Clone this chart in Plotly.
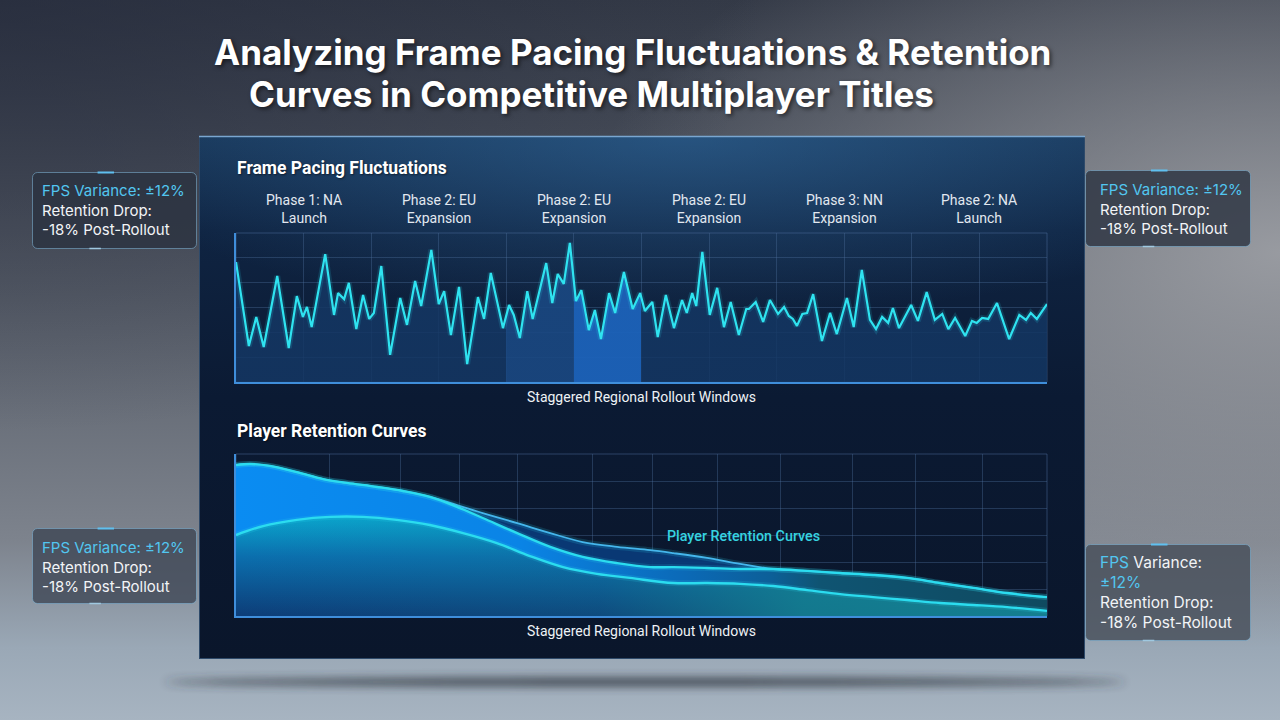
import base64
import plotly.graph_objects as go

W, H = 1280, 720

# ---------------- DATA ----------------
# Frame pacing (x = rollout window position 0..12, y = frame-time deviation units)
fps_x = [0.00, 0.19, 0.30, 0.41, 0.61, 0.78, 0.90, 0.99, 1.05, 1.12, 1.32, 1.45, 1.51, 1.60, 1.67, 1.78,
         1.88, 1.97, 2.04, 2.15, 2.28, 2.43, 2.53, 2.65, 2.74, 2.89, 3.00, 3.08, 3.18, 3.30, 3.42, 3.58,
         3.67, 3.77, 3.95, 4.04, 4.11, 4.20, 4.31, 4.39, 4.59, 4.68, 4.76, 4.85, 4.94, 5.03, 5.11, 5.22,
         5.31, 5.40, 5.52, 5.61, 5.74, 5.87, 5.98, 6.05, 6.16, 6.24, 6.36, 6.48, 6.60, 6.67, 6.75, 6.81,
         6.90, 7.01, 7.12, 7.22, 7.32, 7.44, 7.55, 7.59, 7.69, 7.80, 7.90, 8.02, 8.11, 8.18, 8.24, 8.30,
         8.38, 8.45, 8.54, 8.67, 8.79, 8.89, 9.04, 9.14, 9.26, 9.38, 9.47, 9.56, 9.65, 9.72, 9.81, 9.99,
         10.09, 10.22, 10.34, 10.45, 10.54, 10.64, 10.79, 10.89, 10.96, 11.04, 11.13, 11.26, 11.44, 11.59,
         11.69, 11.76, 11.85, 12.00]
fps_y = [48.3, 14.5, 26.2, 14.1, 42.7, 13.7, 34.6, 26.2, 30.2, 22.1, 51.5, 27.0, 35.8, 33.4, 39.9, 21.3,
         35.0, 25.4, 27.8, 46.7, 10.9, 33.8, 23.0, 40.7, 30.6, 53.2, 31.4, 36.6, 18.9, 38.3, 7.2, 34.2,
         25.4, 43.9, 21.7, 31.0, 27.0, 17.7, 36.6, 25.4, 47.9, 31.8, 43.5, 39.5, 56.0, 32.6, 37.0, 20.9,
         29.0, 17.3, 35.8, 27.8, 44.3, 29.4, 35.8, 28.6, 32.2, 18.1, 35.0, 21.7, 33.0, 27.8, 35.8, 30.6,
         52.4, 27.0, 37.9, 22.1, 32.2, 18.9, 29.4, 29.4, 32.2, 24.2, 33.0, 27.4, 30.2, 26.6, 25.4, 22.6,
         27.4, 27.8, 35.4, 16.5, 27.8, 19.3, 33.8, 22.1, 45.1, 25.0, 21.3, 26.2, 23.8, 29.8, 21.7, 31.0,
         24.6, 36.2, 25.0, 27.4, 21.3, 25.8, 18.5, 24.6, 23.8, 25.8, 25.4, 31.8, 17.3, 27.0,
         25.0, 27.8, 25.4, 31.4]

phase_x = [1, 3, 5, 7, 9, 11]
phase_labels = ["Phase 1: NA<br>Launch", "Phase 2: EU<br>Expansion", "Phase 2: EU<br>Expansion",
                "Phase 2: EU<br>Expansion", "Phase 3: NN<br>Expansion", "Phase 2: NA<br>Launch"]

# Retention curves
ret_a_x = [0.00, 0.21, 0.50, 0.90, 1.29, 1.64, 2.09, 2.47, 2.87, 3.27, 3.65, 4.16, 4.65, 5.13, 5.64,
           6.13, 6.47, 6.97, 7.46, 7.95, 8.45, 8.94, 9.43, 9.93, 10.42, 10.91, 11.41, 12.00]
ret_a_y = [55.9, 56.3, 55.6, 53.3, 50.7, 49.3, 47.8, 46.3, 44.1, 41.1, 38.1, 34.4, 30.7, 27.4, 25.6,
           24.4, 23.3, 21.5, 19.3, 17.4, 16.7, 15.9, 15.2, 14.1, 12.2, 10.4, 8.5, 7.0]
ret_b_x = ret_a_x
ret_b_y = [55.9, 56.3, 55.6, 53.3, 50.7, 49.3, 47.8, 46.3, 44.1, 40.4, 36.3, 30.7, 25.6, 21.9, 19.6,
           18.1, 18.1, 17.8, 17.4, 17.4, 16.7, 15.9, 15.2, 14.1, 12.2, 10.4, 8.5, 7.0]
ret_c_x = [0.00, 0.40, 0.90, 1.39, 1.88, 2.38, 2.87, 3.36, 3.86, 4.35, 4.84, 5.34, 5.83, 6.47, 6.97,
           7.46, 7.95, 8.45, 8.94, 9.43, 9.93, 10.42, 10.91, 11.41, 12.00]
ret_c_y = [30.0, 33.3, 35.6, 36.7, 36.7, 35.6, 33.7, 30.7, 27.0, 22.2, 18.1, 15.6, 14.1, 12.2, 12.2,
           11.9, 11.1, 9.6, 8.1, 7.0, 5.9, 4.8, 4.1, 3.3, 1.9]
ret_grid_x = [1.38, 2.43, 3.30, 4.16, 5.28, 6.16, 7.13, 8.06, 9.12, 10.05, 11.05]

title_line1 = "Analyzing Frame Pacing Fluctuations & Retention"
title_line2 = "Curves in Competitive Multiplayer Titles"
sub1 = "Frame Pacing Fluctuations"
sub2 = "Player Retention Curves"
x_title = "Staggered Regional Rollout Windows"
callout_cyan = "FPS Variance: ±12%"
callout_l2 = "Retention Drop:"
callout_l3 = "-18% Post-Rollout"

# ---------------- BACKGROUND (decorative SVG) ----------------
def box(x, y, w, h, fill, op):
    return (f"<rect x='{x+0.5}' y='{y+0.5}' width='{w}' height='{h}' rx='5' fill='{fill}' fill-opacity='{op}' "
            f"stroke='#7fb6d8' stroke-opacity='0.55' stroke-width='1'/>"
            f"<line x1='{x+w*0.4}' y1='{y+0.5}' x2='{x+w*0.5}' y2='{y+0.5}' stroke='#5fc0f0' stroke-width='2'/>"
            f"<line x1='{x+w*0.35}' y1='{y+h+0.5}' x2='{x+w*0.42}' y2='{y+h+0.5}' stroke='#9fc8e0' stroke-width='1.5'/>")

svg = f"""<svg xmlns='http://www.w3.org/2000/svg' width='{W}' height='{H}' viewBox='0 0 {W} {H}'>
<defs>
<linearGradient id='bg' x1='0' y1='0' x2='0' y2='1'>
<stop offset='0' stop-color='#343a47'/><stop offset='0.4' stop-color='#575d68'/>
<stop offset='0.75' stop-color='#7d838d'/><stop offset='0.9' stop-color='#9aa8b6'/><stop offset='1' stop-color='#a7b4c1'/>
</linearGradient>
<radialGradient id='rg' cx='1' cy='0.35' r='0.55'>
<stop offset='0' stop-color='#a4a6ab' stop-opacity='0.85'/><stop offset='1' stop-color='#a4a6ab' stop-opacity='0'/>
</radialGradient>
<radialGradient id='tl' cx='0' cy='0' r='0.6'>
<stop offset='0' stop-color='#22283a' stop-opacity='0.6'/><stop offset='1' stop-color='#22283a' stop-opacity='0'/>
</radialGradient>
<linearGradient id='panel' x1='0' y1='0' x2='0' y2='1'>
<stop offset='0' stop-color='#183658'/><stop offset='0.18' stop-color='#0f2442'/>
<stop offset='0.5' stop-color='#0b1a33'/><stop offset='1' stop-color='#0a162b'/>
</linearGradient>
<radialGradient id='glow' cx='0.55' cy='0' r='0.7'>
<stop offset='0' stop-color='#3a78b0' stop-opacity='0.45'/><stop offset='1' stop-color='#3a78b0' stop-opacity='0'/>
</radialGradient>
<filter id='blur' x='-20%' y='-200%' width='140%' height='500%'><feGaussianBlur stdDeviation='5'/></filter>
</defs>
<rect width='{W}' height='{H}' fill='url(#bg)'/>
<rect width='{W}' height='{H}' fill='url(#rg)'/>
<rect width='{W}' height='{H}' fill='url(#tl)'/>
<ellipse cx='645' cy='682' rx='480' ry='4' fill='#2f343c' opacity='0.9' filter='url(#blur)'/>
<rect x='199' y='136' width='886' height='523' fill='url(#panel)'/>
<rect x='199' y='136' width='886' height='260' fill='url(#glow)'/>
<rect x='199.5' y='136.5' width='885' height='522' fill='none' stroke='#2e4a6a' stroke-width='1'/>
<line x1='199' y1='136.5' x2='1085' y2='136.5' stroke='#7aa6d0' stroke-width='1.5'/>
{box(32, 172, 164, 76, '#2a3240', 0.8)}
{box(1085, 170, 165, 76, '#2a3240', 0.8)}
{box(32, 528, 164, 75, '#3a4250', 0.75)}
{box(1085, 544, 165, 96, '#454c58', 0.8)}
</svg>"""
svg_uri = "data:image/svg+xml;base64," + base64.b64encode(svg.encode("utf-8")).decode("ascii")

fig = go.Figure()

# ---------------- TOP CHART ----------------
band_scale = [[0, "rgba(20,55,100,0.85)"], [0.333, "rgba(20,55,100,0.85)"],
              [0.3334, "rgba(26,72,130,0.9)"], [0.4166, "rgba(26,72,130,0.9)"],
              [0.4167, "rgba(28,98,185,0.95)"], [0.4999, "rgba(28,98,185,0.95)"],
              [0.5, "rgba(20,55,100,0.85)"], [1, "rgba(19,54,98,0.85)"]]
fig.add_trace(go.Scatter(x=fps_x, y=fps_y, mode="lines", line=dict(width=0), fill="tozeroy",
                         fillgradient=dict(type="horizontal", colorscale=band_scale, start=0, stop=12),
                         hoverinfo="skip", showlegend=False, xaxis="x", yaxis="y"))
fig.add_trace(go.Scatter(x=fps_x, y=fps_y, mode="lines", line=dict(color="rgba(40,230,245,0.14)", width=6),
                         hoverinfo="skip", showlegend=False, xaxis="x", yaxis="y"))
fig.add_trace(go.Scatter(x=fps_x, y=fps_y, mode="lines", line=dict(color="#2fe3f0", width=2.2),
                         name="Frame pacing", showlegend=False, xaxis="x", yaxis="y"))

# ---------------- BOTTOM CHART ----------------
fig.add_trace(go.Scatter(x=ret_c_x, y=ret_c_y, mode="lines", line=dict(width=0, shape="spline"), fill="tozeroy",
                         fillgradient=dict(type="vertical", colorscale=[[0, "#0d3d78"], [0.6, "#0b6fae"], [1, "#0aa7cf"]],
                                           start=0, stop=37),
                         hoverinfo="skip", showlegend=False, xaxis="x2", yaxis="y2"))
fig.add_trace(go.Scatter(x=ret_c_x, y=ret_c_y, mode="lines", line=dict(width=0, shape="spline"), fill="tozeroy",
                         fillgradient=dict(type="horizontal",
                                           colorscale=[[0, "rgba(20,130,145,0)"], [0.45, "rgba(20,130,145,0.2)"],
                                                       [0.7, "rgba(20,130,145,0.85)"], [1, "rgba(20,130,145,0.95)"]],
                                           start=0, stop=12),
                         hoverinfo="skip", showlegend=False, xaxis="x2", yaxis="y2"))
fig.add_trace(go.Scatter(x=ret_b_x, y=ret_b_y, mode="lines", line=dict(width=0, shape="spline"), fill="tonexty",
                         fillgradient=dict(type="horizontal",
                                           colorscale=[[0, "#0a8cf2"], [0.35, "#0a84e6"], [0.55, "#0b6ab8"],
                                                       [0.66, "#0c5f98"], [0.72, "#0f5472"], [1, "#0f4a60"]],
                                           start=0, stop=12),
                         hoverinfo="skip", showlegend=False, xaxis="x2", yaxis="y2"))
fig.add_trace(go.Scatter(x=ret_a_x, y=ret_a_y, mode="lines", line=dict(width=0, shape="spline"), fill="tonexty",
                         fillcolor="rgba(10,58,120,0.95)",
                         hoverinfo="skip", showlegend=False, xaxis="x2", yaxis="y2"))
for xs, ys, col, wd in [(ret_a_x, ret_a_y, "#45b6ec", 1.8), (ret_b_x, ret_b_y, "#2bdcef", 2.4),
                        (ret_c_x, ret_c_y, "#2bdcef", 2.4)]:
    fig.add_trace(go.Scatter(x=xs, y=ys, mode="lines", line=dict(color="rgba(45,220,240,0.15)", width=6, shape="spline"),
                             hoverinfo="skip", showlegend=False, xaxis="x2", yaxis="y2"))
    fig.add_trace(go.Scatter(x=xs, y=ys, mode="lines", line=dict(color=col, width=wd, shape="spline"),
                             showlegend=False, xaxis="x2", yaxis="y2"))

grid_col = "rgba(75,110,155,0.38)"
axis_common = dict(showticklabels=False, ticks="", zeroline=False, showgrid=True, gridcolor=grid_col, gridwidth=1)
dom_x = [236 / W, 1047 / W]
fig.update_layout(
    width=W, height=H, margin=dict(l=0, r=0, t=0, b=0),
    paper_bgcolor="#575d68", plot_bgcolor="rgba(0,0,0,0)",
    xaxis=dict(domain=dom_x, range=[0, 12], dtick=1, anchor="y", showline=True, linecolor="#3f8edb", linewidth=2,
               **axis_common),
    yaxis=dict(domain=[1 - 382 / H, 1 - 233 / H], range=[0, 60], dtick=10, anchor="x", showline=True,
               linecolor="#3f8edb", linewidth=1.5, **axis_common),
    xaxis2=dict(domain=dom_x, range=[0, 12], tickmode="array", tickvals=ret_grid_x, anchor="y2", showline=True,
                linecolor="#3f8edb", linewidth=2, **axis_common),
    yaxis2=dict(domain=[1 - 616 / H, 1 - 454 / H], range=[0, 60], dtick=10, anchor="x2", showline=True,
                linecolor="#3f8edb", linewidth=1.5, **axis_common),
    images=[dict(source=svg_uri, xref="paper", yref="paper", x=0, y=1, sizex=1, sizey=1,
                 xanchor="left", yanchor="top", sizing="stretch", layer="below")],
    shapes=[dict(type="rect", xref="x domain", yref="y domain", x0=0, x1=1, y0=0, y1=1,
                 line=dict(color="rgba(75,110,155,0.5)", width=1), layer="below"),
            dict(type="rect", xref="x2 domain", yref="y2 domain", x0=0, x1=1, y0=0, y1=1,
                 line=dict(color="rgba(75,110,155,0.5)", width=1), layer="below")],
)

ann = []
shadow = "2px 2px 4px rgba(0,0,0,0.55)"
ann.append(dict(text=title_line1, x=632 / W, y=1 - 52 / H, xref="paper", yref="paper", xanchor="center",
                yanchor="middle", showarrow=False,
                font=dict(family="Inter", size=35, color="#ffffff", weight="bold", shadow=shadow)))
ann.append(dict(text=title_line2, x=591 / W, y=1 - 94 / H, xref="paper", yref="paper", xanchor="center",
                yanchor="middle", showarrow=False,
                font=dict(family="Inter", size=35, color="#ffffff", weight="bold", shadow=shadow)))
for txt, yy in [(sub1, 168), (sub2, 431)]:
    ann.append(dict(text=txt, x=235 / W, y=1 - yy / H, xref="paper", yref="paper", xanchor="left",
                    yanchor="middle", showarrow=False,
                    font=dict(family="Roboto", size=17.5, color="#ffffff", weight="bold", shadow="1px 1px 2px rgba(0,0,0,0.5)")))
for px_, lab in zip(phase_x, phase_labels):
    ann.append(dict(text=lab, x=px_, y=1 - 209.5 / H, xref="x", yref="paper", xanchor="center", yanchor="middle",
                    showarrow=False, font=dict(family="Roboto", size=14, color="#e2e8f0")))
for yy in [397, 631]:
    ann.append(dict(text=x_title, x=641 / W, y=1 - yy / H, xref="paper", yref="paper", xanchor="center",
                    yanchor="middle", showarrow=False, font=dict(family="Roboto", size=14, color="#eef2f6")))
ann.append(dict(text=sub2, x=665 / W, y=1 - 536 / H, xref="paper", yref="paper", xanchor="left", yanchor="middle",
                showarrow=False, font=dict(family="Roboto", size=14.3, color="#36d3e0", weight=500)))

cy = "#52c6f0"
std = f"<span style='color:{cy}'>{callout_cyan}</span><br>{callout_l2}<br>{callout_l3}"
for bx, by in [(40, 179), (1098, 178), (40, 536)]:
    ann.append(dict(text=std, x=bx / W, y=1 - by / H, xref="paper", yref="paper", xanchor="left", yanchor="top",
                    align="left", showarrow=False, font=dict(family="Inter", size=15, color="#f2f4f7")))
fps_word, rest = callout_cyan.split(" ", 1)
var_word, pct = rest.split(" ", 1)
special = (f"<span style='color:{cy}'>{fps_word}</span> {var_word}<br><span style='color:{cy}'>{pct}</span>"
           f"<br>{callout_l2}<br>{callout_l3}")
ann.append(dict(text=special, x=1098 / W, y=1 - 551 / H, xref="paper", yref="paper", xanchor="left", yanchor="top",
                align="left", showarrow=False, font=dict(family="Inter", size=15.5, color="#f2f4f7")))
fig.update_layout(annotations=ann)

fig.write_html("out.html")
